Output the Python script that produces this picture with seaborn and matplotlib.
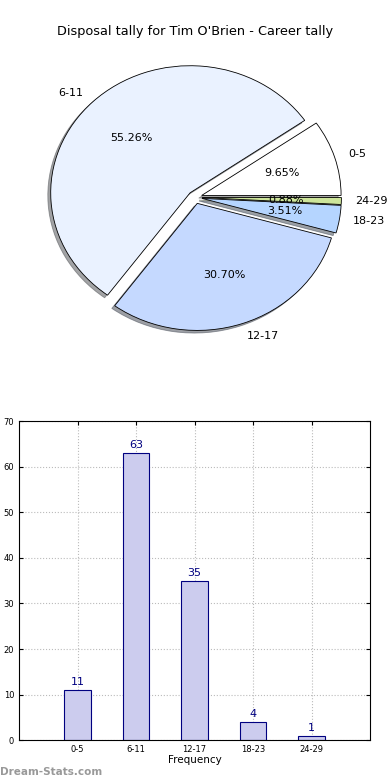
import matplotlib
matplotlib.use("Agg")
import matplotlib.pyplot as plt
import seaborn as sns
import pandas as pd

# disposal tally data
bins = ["0-5", "6-11", "12-17", "18-23", "24-29"]
counts = [11, 63, 35, 4, 1]
pie_colors = ["#ffffff", "#eaf2ff", "#c5d9ff", "#b5d5ff", "#cde59a"]

df = pd.DataFrame({"bin": bins, "count": counts})

fig = plt.figure(figsize=(3.9, 7.8), dpi=100)
fig.suptitle("Disposal tally for Tim O'Brien - Career tally", y=0.968, fontsize=9.3)

# pie chart (slightly stretched horizontally, like the original)
ax1 = fig.add_axes([0.096, 0.545, 0.808, 0.404])
wedges, texts, autotexts = ax1.pie(
    df["count"], labels=df["bin"], colors=pie_colors, autopct="%.2f%%",
    explode=[0.05] * len(bins), shadow={"ox": -0.015, "oy": -0.015},
    startangle=0,
    wedgeprops={"edgecolor": "black", "linewidth": 0.6},
    textprops={"fontsize": 8},
)
ax1.set_aspect("auto")
ax1.set_xlim(-1.13, 1.13)
ax1.set_ylim(-1.24, 1.24)

# bar chart
ax2 = fig.add_axes([0.049, 0.051, 0.9, 0.409])
sns.barplot(data=df, x="bin", y="count", ax=ax2, width=0.45,
            color="#ccccee", edgecolor="#000080", linewidth=0.8, saturation=1)
for i, v in enumerate(counts):
    ax2.text(i, v + 0.6, str(v), ha="center", va="bottom", color="#000080", fontsize=8)
ax2.set_xlim(-1, 5)
ax2.set_ylim(0, 70)
ax2.set_yticks(range(0, 71, 10))
ax2.grid(True, color="#bbbbbb", linestyle=":", linewidth=0.8)
ax2.set_axisbelow(True)
ax2.tick_params(direction="in", top=True, right=True, labelsize=6, length=3)
ax2.set_xlabel("Frequency", fontsize=7.5, labelpad=1)
ax2.set_ylabel("")
for s in ax2.spines.values():
    s.set_linewidth(0.8)

fig.text(0.0, 0.006, "Dream-Stats.com", color="#999999", fontsize=7.5, fontweight="bold")

fig.savefig("out.png", dpi=100)
